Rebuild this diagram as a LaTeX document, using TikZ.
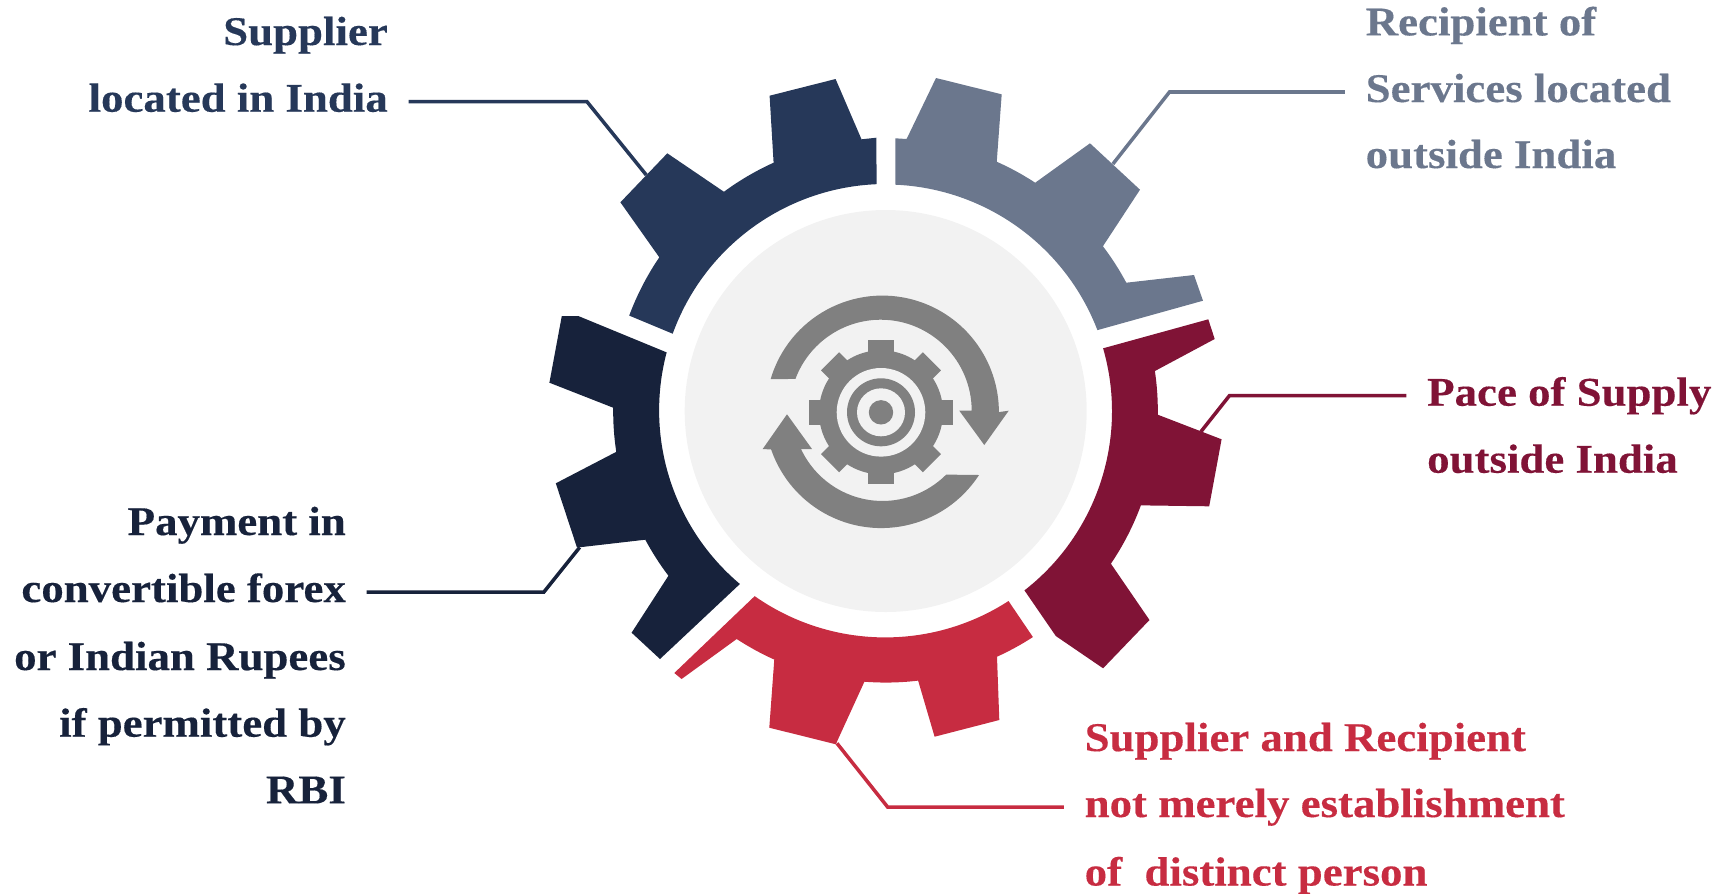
\documentclass[tikz,border=0pt]{standalone}
\usepackage{fontspec}
\newfontfamily\lblfont[FakeStretch=1.1,FakeBold=0.3]{Liberation Serif Bold}
\definecolor{navy}{HTML}{263859}
\definecolor{slate}{HTML}{6B778D}
\definecolor{ink}{HTML}{17223B}
\definecolor{wine}{HTML}{801336}
\definecolor{rose}{HTML}{C72C41}
\definecolor{disc}{HTML}{F2F2F2}
\definecolor{icon}{HTML}{808080}
\tikzset{
  lbl/.style={inner sep=0pt,text height=0.36cm,text depth=0.16cm,font=\lblfont\fontsize{11.6}{13}\selectfont},
  wire/.style={line width=1pt,shorten <=0.2cm}
}
\begin{document}
\begin{tikzpicture}[x=0.01cm,y=-0.01cm]
\useasboundingbox (0,0) rectangle (1714,893);

\foreach \n/\y/\v in {0/45/Supplier,1/111.7/located in India}
\node[lbl,text=navy,anchor=base east] (sup\n) at (388.5,\y) {\v};
\foreach \n/\y/\v in {0/35.4/Recipient of,1/102/Services located,2/168/outside India}
\node[lbl,text=slate,anchor=base west] (rec\n) at (1365,\y) {\v};
\foreach \n/\y/\v in {0/405.7/Pace of Supply,1/472.7/outside India}
\node[lbl,text=wine,anchor=base west] (pac\n) at (1426.5,\y) {\v};
\foreach \n/\y/\v in {0/751/Supplier and Recipient,1/817/not merely establishment,2/885.5/of\ \ distinct person}
\node[lbl,text=rose,anchor=base west] (est\n) at (1084,\y) {\v};
\foreach \n/\y/\v in {0/535/Payment in,1/602/convertible forex,2/670/or Indian Rupees,3/736.7/if permitted by,4/803.3/RBI}
\node[lbl,text=ink,anchor=base east] (pay\n) at (346.5,\y) {\v};

\coordinate (supE) at (587,100);
\coordinate (supT) at (646.3,175);
\coordinate (recE) at (1169.5,92);
\coordinate (recT) at (1112.9,164);
\coordinate (pacE) at (1229.4,396);
\coordinate (pacT) at (1200.9,431.7);
\coordinate (estE) at (887.6,805.6);
\coordinate (estT) at (837,743.3);
\coordinate (payE) at (543.9,592.7);
\coordinate (payT) at (579.7,547.3);
\draw[wire,navy] (sup1.east) -- (supE |- sup1.east) -- (supT);
\draw[wire,slate] (rec1.west) -- (recE |- rec1.west) -- (recT);
\draw[wire,wine] (pac0.west) -- (pacE |- pac0.west) -- (pacT);
\draw[wire,rose] (est1.west) -- (estE |- est1.west) -- (estT);
\draw[wire,ink] (pay1.east) -- (payE |- pay1.east) -- (payT);

\fill[navy] (672.7,333.7) arc[start angle=199.9,end angle=267.6,radius=227] -- (876.3,137.7) -- (861.5,139.3) -- (835.6,79) -- (769.6,95.7)
  -- (773.6,162.7) arc[start angle=245.7,end angle=233.6,radius=273] -- (667.3,153.3) -- (620.4,202.3)
  -- (659.3,257.3) arc[start angle=214.2,end angle=200.4,radius=273] -- cycle;

\fill[slate] (895.4,184.7) arc[start angle=272.5,end angle=339,radius=227] -- (1203,300.7) -- (1194,275)
  -- (1126.3,282.7) arc[start angle=331.9,end angle=322.8,radius=273] -- (1140,189.7) -- (1090,143.3)
  -- (1035.2,182.7) arc[start angle=303.2,end angle=294,radius=273] -- (1001.7,94.3) -- (936,78) -- (906.6,139) -- (895.4,138.3) -- cycle;

\fill[wine] (1103.1,348.3) arc[start angle=-16.1,end angle=52.1,radius=227] -- (1055.8,636) -- (1103.1,668.3) -- (1149.5,620)
  -- (1110.9,563.7) arc[start angle=34.1,end angle=20.3,radius=273] -- (1209.2,506.3) -- (1221.6,439.3)
  -- (1157.8,414.7) arc[start angle=0.8,end angle=-8.4,radius=273] -- (1214.7,339) -- (1208.3,319.3) -- cycle;

\fill[rose] (1008.5,601) arc[start angle=57.1,end angle=125.1,radius=227] -- (674.3,673) -- (681.6,679)
  -- (736.7,639) arc[start angle=123.2,end angle=114.2,radius=273] -- (769.3,727.7) -- (835.9,744.3) -- (837.7,740)
  -- (864.4,681.7) arc[start angle=94.5,end angle=83.2,radius=273] -- (934.6,736.7) -- (999.3,720)
  -- (997,656.7) arc[start angle=65.6,end angle=57,radius=273] -- cycle;

\fill[ink] (739.9,584) arc[start angle=130.1,end angle=194.8,radius=227] -- (578.3,316) -- (561.8,316) -- (549.4,382.7)
  -- (613.2,407.7) arc[start angle=180.7,end angle=171.4,radius=273] -- (555.8,483.3) -- (576.9,547.3) -- (582,547)
  -- (645.3,539.7) arc[start angle=151.8,end angle=142.8,radius=273] -- (631.6,632.7) -- (660,659) -- cycle;

\fill[disc] (885.7,411) circle[radius=201];

\fill[icon] (770.7,379) arc[start angle=196.5,end angle=360,radius=116.5] -- (1008.7,410.7) -- (984.3,445) -- (959.3,410.7)
  -- (971.7,410.7) arc[start angle=360,end angle=200.4,radius=91] -- cycle;
\fill[icon] (979,475) arc[start angle=33,end angle=161,radius=116.5] -- (762.7,449) -- (787,414.3) -- (812,449)
  -- (801,449) arc[start angle=155,end angle=45,radius=90] -- cycle;

\foreach \a in {0,45,...,315}
\fill[icon,shift={(881,412.3)},rotate=\a] (-12.8,-50) rectangle (12.8,-72);
\fill[icon] (881,412.3) circle[radius=62];
\fill[disc] (881,412.3) circle[radius=44.3];
\fill[icon] (881,412.3) circle[radius=34];
\fill[disc] (881,412.3) circle[radius=24];
\fill[icon] (881,412.3) circle[radius=12.2];

\end{tikzpicture}
\end{document}
